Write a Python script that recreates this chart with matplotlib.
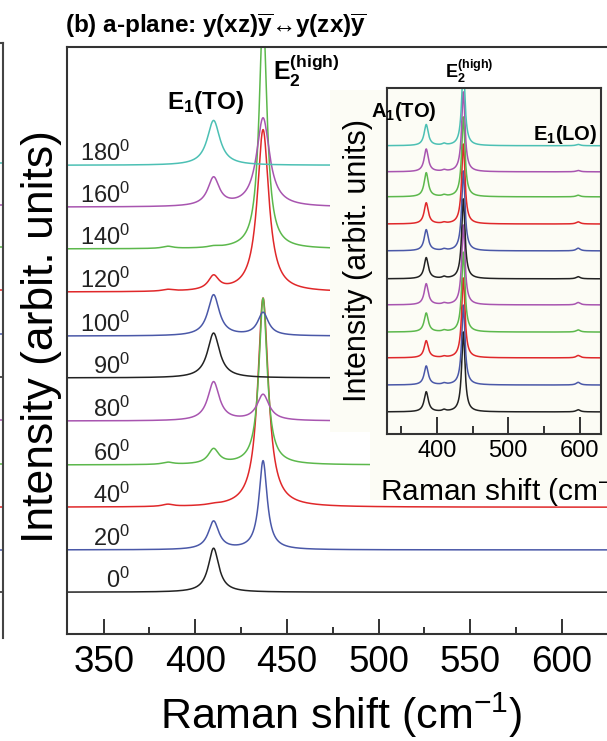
import numpy as np
import matplotlib
matplotlib.use("Agg")
import matplotlib.pyplot as plt
from matplotlib.patches import Rectangle
from matplotlib.ticker import FixedLocator

plt.rcParams['font.family'] = ['Liberation Sans', 'DejaVu Sans']
plt.rcParams['mathtext.fontset'] = 'custom'
plt.rcParams['mathtext.rm'] = 'Liberation Sans'
plt.rcParams['mathtext.it'] = 'Liberation Sans:italic'
plt.rcParams['mathtext.bf'] = 'Liberation Sans:bold'

# ---- data ----
angles = [0, 20, 40, 60, 80, 90, 100, 120, 140, 160, 180]
colors = ['#222222', '#4a58a8', '#e0282a', '#5cb84c', '#a855b0', '#222222',
          '#4a58a8', '#e0282a', '#5cb84c', '#a855b0', '#4cc0b4']

# main panel: vertical offsets and peak parameters (cm-1, arb. units)
offsets = [0.98, 1.97, 2.97, 3.96, 4.99, 6.0, 6.98, 8.01, 9.02, 10.0, 10.98]
a1_pos, e1to_pos, e2_pos, e1lo_pos = 385, 410, 437, 598
a1_height = [0.0, 0.0, 0.05, 0.05, 0.0, 0.0, 0.0, 0.04, 0.05, 0.0, 0.0]
e1_height = [1.03, 0.66, 0.02, 0.35, 0.91, 1.05, 0.96, 0.33, 0.03, 0.66, 1.05]
e1_hwhm = [3.5, 3.5, 3.5, 3.5, 3.8, 4.0, 3.8, 3.5, 3.5, 3.8, 4.2]
e2_height = [0.0, 2.08, 4.9, 3.9, 0.61, 0.0, 0.54, 3.8, 5.5, 2.08, 0.0]
e2_hwhm = [3.0, 2.7, 3.5, 2.7, 4.0, 3.0, 3.5, 3.8, 2.6, 4.3, 3.0]

# inset: all traces normalised, A1(TO), E2(high), E1(LO)
ins_offsets = [0.83, 1.84, 2.86, 3.83, 4.85, 5.83, 6.88, 7.89, 8.91, 9.85, 10.83]
ins_a1_height = [0.75, 0.71, 0.64, 0.71, 0.79, 0.79, 0.79, 0.79, 0.9, 0.85, 0.79]
ins_e1to_height = [0.06, 0.05, 0.04, 0.05, 0.05, 0.06, 0.05, 0.04, 0.05, 0.05, 0.06]
ins_e2_height = [3.0, 3.0, 3.0, 3.0, 3.0, 3.0, 3.0, 3.0, 3.0, 3.0, 3.0]
ins_e1lo_height = [0.08, 0.1, 0.09, 0.08, 0.09, 0.08, 0.1, 0.08, 0.06, 0.05, 0.05]

main_major = [350, 400, 450, 500, 550, 600]
main_minor = [375, 425, 475, 525, 575, 625]
ins_major = [400, 500, 600]
ins_minor = [350, 450, 550]


def lor(x, x0, h, g):
    return h * g ** 2 / ((x - x0) ** 2 + g ** 2)


W, H = 607, 741
fig = plt.figure(figsize=(W / 100, H / 100), dpi=100)


def frac(x0, y_top, w, h):
    return [x0 / W, 1 - (y_top + h) / H, w / W, h / H]


# ---- main panel ----
ax = fig.add_axes(frac(67, 47, 678, 587))
x = np.linspace(330, 700, 4000)
for i in range(len(angles)):
    y = (offsets[i] + lor(x, a1_pos, a1_height[i], 3.5)
         + lor(x, e1to_pos, e1_height[i], e1_hwhm[i])
         + lor(x, e2_pos, e2_height[i], e2_hwhm[i]))
    ax.plot(x, y, color=colors[i], lw=1.1)
    ax.text(364.5, offsets[i] + 0.1, f"{angles[i]}$^0$", ha='right',
            va='baseline', fontsize=17, color='#222222')

ax.set_xlim(330, 700)
ax.set_ylim(0, 13.75)
ax.set_yticks([])
ax.xaxis.set_major_locator(FixedLocator(main_major))
ax.xaxis.set_minor_locator(FixedLocator(main_minor))
ax.tick_params(which='both', direction='in', width=1.4, color='#333333',
               labelsize=26.5, pad=8)
ax.tick_params(which='major', length=11)
ax.tick_params(which='minor', length=5)
for s in ax.spines.values():
    s.set_linewidth(1.5)
    s.set_color('#333333')
ax.set_xlabel("Raman shift (cm$^{-1}$)", fontsize=31)
ax.xaxis.set_label_coords(0.404, -0.097)
ax.set_ylabel("Intensity (arbit. units)", fontsize=32)
ax.yaxis.set_label_coords(-0.008, 0.506)

ax.text(405.5, 12.46, r"$\mathbf{E_1}$(TO)", fontweight='bold', fontsize=17.5,
        ha='center', va='center')
ax.text(442.6, 12.97, r"$\mathbf{E_2^{(high)}}$", fontsize=18, ha='left',
        va='baseline')

# ---- sliver of the neighbouring panel on the left ----
axp = fig.add_axes(frac(-197, 43, 200, 595))
for i in range(len(angles)):
    axp.axhline(offsets[i] + 0.08, color=colors[i], lw=1.1)
axp.set_xlim(0, 1)
axp.set_ylim(0, 13.84)
axp.set_xticks([])
axp.set_yticks([])
for k in ['left', 'bottom']:
    axp.spines[k].set_visible(False)
for k in ['right', 'top']:
    axp.spines[k].set_linewidth(1.5)
    axp.spines[k].set_color('#444444')

# ---- opaque background of the pasted inset ----
bg = '#fcfcf5'
fig.patches.append(Rectangle((330 / W, 1 - 432 / H), 277 / W, 342 / H,
                             transform=fig.transFigure, facecolor=bg,
                             edgecolor='none', zorder=1))
fig.patches.append(Rectangle((370 / W, 1 - 500 / H), 237 / W, 68 / H,
                             transform=fig.transFigure, facecolor=bg,
                             edgecolor='none', zorder=1))

# ---- inset ----
ins = fig.add_axes(frac(387, 88, 214, 346))
ins.set_zorder(2)
ins.set_facecolor(bg)
xi = np.linspace(330, 630, 3000)
for i in range(len(angles)):
    y = (ins_offsets[i] + lor(xi, a1_pos, ins_a1_height[i], 3.5)
         + lor(xi, e1to_pos, ins_e1to_height[i], 3.0)
         + lor(xi, e2_pos, ins_e2_height[i], 2.8)
         + lor(xi, e1lo_pos, ins_e1lo_height[i], 3.5))
    ins.plot(xi, y, color=colors[i], lw=1.1)
ins.set_xlim(330, 630)
ins.set_ylim(0, 13.0)
ins.set_yticks([])
ins.xaxis.set_major_locator(FixedLocator(ins_major))
ins.xaxis.set_minor_locator(FixedLocator(ins_minor))
ins.tick_params(which='both', direction='in', width=1.4, color='#333333',
                labelsize=17, pad=4)
ins.tick_params(which='major', length=12)
ins.tick_params(which='minor', length=6)
for s in ins.spines.values():
    s.set_linewidth(1.5)
    s.set_color('#333333')
ins.set_xlabel("Raman shift (cm$^{-1}$)", fontsize=21.5)
ins.xaxis.set_label_coords(0.556, -0.115)
ins.set_ylabel("Intensity (arbit. units)", fontsize=22)
ins.yaxis.set_label_coords(-0.065, 0.5)
ins.text(307.7, 11.92, r"$\mathbf{A_1}$(TO)", fontweight='bold', fontsize=14.5,
         ha='left', va='baseline')
ins.text(534, 11.05, r"$\mathbf{E_1}$(LO)", fontweight='bold', fontsize=14.5,
         ha='left', va='baseline')
ins.text(411.6, 13.38, r"$\mathbf{E_2^{(high)}}$", fontsize=13, ha='left',
         va='baseline')

fig.text(65 / W, 1 - 33 / H,
         r"(b) a-plane: y(xz)$\overline{\mathbf{y}}$↔y(zx)$\overline{\mathbf{y}}$",
         fontweight='bold', fontsize=17.5, va='baseline', ha='left')

fig.savefig("out.png", dpi=100)
